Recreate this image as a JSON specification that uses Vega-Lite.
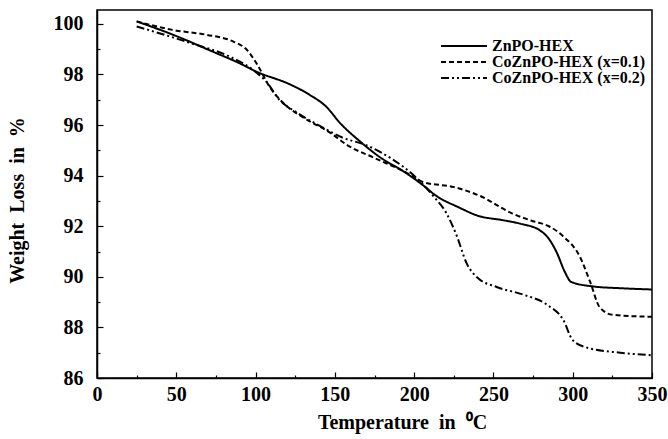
{
  "$schema": "https://vega.github.io/schema/vega-lite/v6.json",
  "autosize": "none",
  "width": 555,
  "height": 368,
  "padding": {"left": 97, "top": 10, "right": 16, "bottom": 61},
  "background": "white",
  "config": {
    "view": {"stroke": "black", "strokeWidth": 1.5},
    "font": "Liberation Serif",
    "axis": {"domainColor": "black", "tickColor": "black", "labelColor": "black", "titleColor": "black", "grid": false, "labelFont": "Liberation Serif", "titleFont": "Liberation Serif", "labelFontWeight": "bold", "titleFontWeight": "bold", "labelFontSize": 20, "titleFontSize": 20, "domainWidth": 1.5, "tickWidth": 1.2}
  },
  "data": {"values": [
    {"s": "ZnPO-HEX", "t": 25, "w": 100.1},
    {"s": "ZnPO-HEX", "t": 48, "w": 99.57},
    {"s": "ZnPO-HEX", "t": 75, "w": 98.85},
    {"s": "ZnPO-HEX", "t": 88, "w": 98.5},
    {"s": "ZnPO-HEX", "t": 101, "w": 98.1},
    {"s": "ZnPO-HEX", "t": 122, "w": 97.6},
    {"s": "ZnPO-HEX", "t": 134, "w": 97.2},
    {"s": "ZnPO-HEX", "t": 145, "w": 96.7},
    {"s": "ZnPO-HEX", "t": 153, "w": 96.1},
    {"s": "ZnPO-HEX", "t": 165, "w": 95.4},
    {"s": "ZnPO-HEX", "t": 178, "w": 94.75},
    {"s": "ZnPO-HEX", "t": 195, "w": 94.1},
    {"s": "ZnPO-HEX", "t": 205, "w": 93.65},
    {"s": "ZnPO-HEX", "t": 214, "w": 93.2},
    {"s": "ZnPO-HEX", "t": 228, "w": 92.75},
    {"s": "ZnPO-HEX", "t": 241, "w": 92.4},
    {"s": "ZnPO-HEX", "t": 255, "w": 92.25},
    {"s": "ZnPO-HEX", "t": 267, "w": 92.1},
    {"s": "ZnPO-HEX", "t": 279, "w": 91.85},
    {"s": "ZnPO-HEX", "t": 285, "w": 91.5},
    {"s": "ZnPO-HEX", "t": 290, "w": 90.95},
    {"s": "ZnPO-HEX", "t": 295, "w": 90.2},
    {"s": "ZnPO-HEX", "t": 299, "w": 89.8},
    {"s": "ZnPO-HEX", "t": 313, "w": 89.62},
    {"s": "ZnPO-HEX", "t": 330, "w": 89.55},
    {"s": "ZnPO-HEX", "t": 350, "w": 89.5},

    {"s": "CoZnPO-HEX (x=0.1)", "t": 25, "w": 100.1},
    {"s": "CoZnPO-HEX (x=0.1)", "t": 48, "w": 99.76},
    {"s": "CoZnPO-HEX (x=0.1)", "t": 69, "w": 99.57},
    {"s": "CoZnPO-HEX (x=0.1)", "t": 86, "w": 99.3},
    {"s": "CoZnPO-HEX (x=0.1)", "t": 94.6, "w": 98.97},
    {"s": "CoZnPO-HEX (x=0.1)", "t": 101, "w": 98.4},
    {"s": "CoZnPO-HEX (x=0.1)", "t": 109, "w": 97.5},
    {"s": "CoZnPO-HEX (x=0.1)", "t": 117, "w": 96.9},
    {"s": "CoZnPO-HEX (x=0.1)", "t": 130, "w": 96.3},
    {"s": "CoZnPO-HEX (x=0.1)", "t": 147, "w": 95.7},
    {"s": "CoZnPO-HEX (x=0.1)", "t": 158, "w": 95.2},
    {"s": "CoZnPO-HEX (x=0.1)", "t": 175, "w": 94.7},
    {"s": "CoZnPO-HEX (x=0.1)", "t": 195.5, "w": 94.1},
    {"s": "CoZnPO-HEX (x=0.1)", "t": 205.5, "w": 93.75},
    {"s": "CoZnPO-HEX (x=0.1)", "t": 225, "w": 93.55},
    {"s": "CoZnPO-HEX (x=0.1)", "t": 241.5, "w": 93.2},
    {"s": "CoZnPO-HEX (x=0.1)", "t": 262, "w": 92.5},
    {"s": "CoZnPO-HEX (x=0.1)", "t": 275, "w": 92.2},
    {"s": "CoZnPO-HEX (x=0.1)", "t": 285, "w": 92.0},
    {"s": "CoZnPO-HEX (x=0.1)", "t": 294, "w": 91.6},
    {"s": "CoZnPO-HEX (x=0.1)", "t": 304.5, "w": 90.8},
    {"s": "CoZnPO-HEX (x=0.1)", "t": 311, "w": 89.8},
    {"s": "CoZnPO-HEX (x=0.1)", "t": 317, "w": 88.8},
    {"s": "CoZnPO-HEX (x=0.1)", "t": 325, "w": 88.5},
    {"s": "CoZnPO-HEX (x=0.1)", "t": 350, "w": 88.42},

    {"s": "CoZnPO-HEX (x=0.2)", "t": 25, "w": 99.9},
    {"s": "CoZnPO-HEX (x=0.2)", "t": 58.6, "w": 99.25},
    {"s": "CoZnPO-HEX (x=0.2)", "t": 84, "w": 98.7},
    {"s": "CoZnPO-HEX (x=0.2)", "t": 98, "w": 98.2},
    {"s": "CoZnPO-HEX (x=0.2)", "t": 107, "w": 97.7},
    {"s": "CoZnPO-HEX (x=0.2)", "t": 115, "w": 97.0},
    {"s": "CoZnPO-HEX (x=0.2)", "t": 126, "w": 96.5},
    {"s": "CoZnPO-HEX (x=0.2)", "t": 142.5, "w": 95.9},
    {"s": "CoZnPO-HEX (x=0.2)", "t": 155, "w": 95.5},
    {"s": "CoZnPO-HEX (x=0.2)", "t": 170, "w": 95.2},
    {"s": "CoZnPO-HEX (x=0.2)", "t": 185, "w": 94.7},
    {"s": "CoZnPO-HEX (x=0.2)", "t": 200, "w": 94.0},
    {"s": "CoZnPO-HEX (x=0.2)", "t": 212, "w": 93.2},
    {"s": "CoZnPO-HEX (x=0.2)", "t": 220.5, "w": 92.5},
    {"s": "CoZnPO-HEX (x=0.2)", "t": 227, "w": 91.6},
    {"s": "CoZnPO-HEX (x=0.2)", "t": 233, "w": 90.55},
    {"s": "CoZnPO-HEX (x=0.2)", "t": 240, "w": 89.96},
    {"s": "CoZnPO-HEX (x=0.2)", "t": 252, "w": 89.6},
    {"s": "CoZnPO-HEX (x=0.2)", "t": 268.6, "w": 89.3},
    {"s": "CoZnPO-HEX (x=0.2)", "t": 283.7, "w": 88.9},
    {"s": "CoZnPO-HEX (x=0.2)", "t": 294, "w": 88.3},
    {"s": "CoZnPO-HEX (x=0.2)", "t": 300, "w": 87.5},
    {"s": "CoZnPO-HEX (x=0.2)", "t": 309, "w": 87.2},
    {"s": "CoZnPO-HEX (x=0.2)", "t": 330, "w": 87.0},
    {"s": "CoZnPO-HEX (x=0.2)", "t": 350, "w": 86.9}
  ]},
  "layer": [
    {
      "mark": {"type": "line", "color": "black", "strokeWidth": 2, "interpolate": "monotone"},
      "encoding": {
        "x": {"field": "t", "type": "quantitative", "scale": {"domain": [0, 350], "nice": false},
          "axis": {"title": "Temperature\u00a0\u00a0in\u00a0\u00a0⁰C", "values": [0, 50, 100, 150, 200, 250, 300, 350], "tickSize": -6, "labelPadding": 12, "labelFlush": false, "titleY": 34, "titleX": 305}},
        "y": {"field": "w", "type": "quantitative", "scale": {"domain": [86, 100.55], "nice": false, "zero": false},
          "axis": {"title": "Weight\u00a0\u00a0Loss\u00a0\u00a0in\u00a0\u00a0%", "values": [86, 88, 90, 92, 94, 96, 98, 100], "tickSize": -6, "labelPadding": 20, "labelFlush": false, "titleX": -70, "titleY": 190}},
        "strokeDash": {"field": "s", "type": "nominal",
          "scale": {"domain": ["ZnPO-HEX", "CoZnPO-HEX (x=0.1)", "CoZnPO-HEX (x=0.2)"], "range": [[1, 0], [5, 3], [8, 3, 2, 3, 2, 3]]},
          "legend": {"title": null, "orient": "none", "legendX": 343, "legendY": 28, "symbolType": "stroke", "symbolSize": 2116, "symbolStrokeWidth": 2, "symbolStrokeColor": "black", "labelFont": "Liberation Serif", "labelFontWeight": "bold", "labelFontSize": 16, "labelColor": "black", "rowPadding": 0, "clipHeight": 16, "labelOffset": 4}}
      }
    },
    {
      "mark": {"type": "point", "opacity": 0},
      "encoding": {
        "x": {"field": "t", "type": "quantitative", "scale": {"domain": [0, 350], "nice": false},
          "axis": {"orient": "bottom", "title": null, "labels": false, "domain": false, "values": [25, 75, 125, 175, 225, 275, 325], "tickSize": -3}},
        "y": {"field": "w", "type": "quantitative", "scale": {"domain": [86, 100.55], "nice": false, "zero": false},
          "axis": {"orient": "left", "title": null, "labels": false, "domain": false, "values": [87, 89, 91, 93, 95, 97, 99], "tickSize": -3}}
      }
    }
  ],
  "resolve": {"axis": {"x": "independent", "y": "independent"}}
}
